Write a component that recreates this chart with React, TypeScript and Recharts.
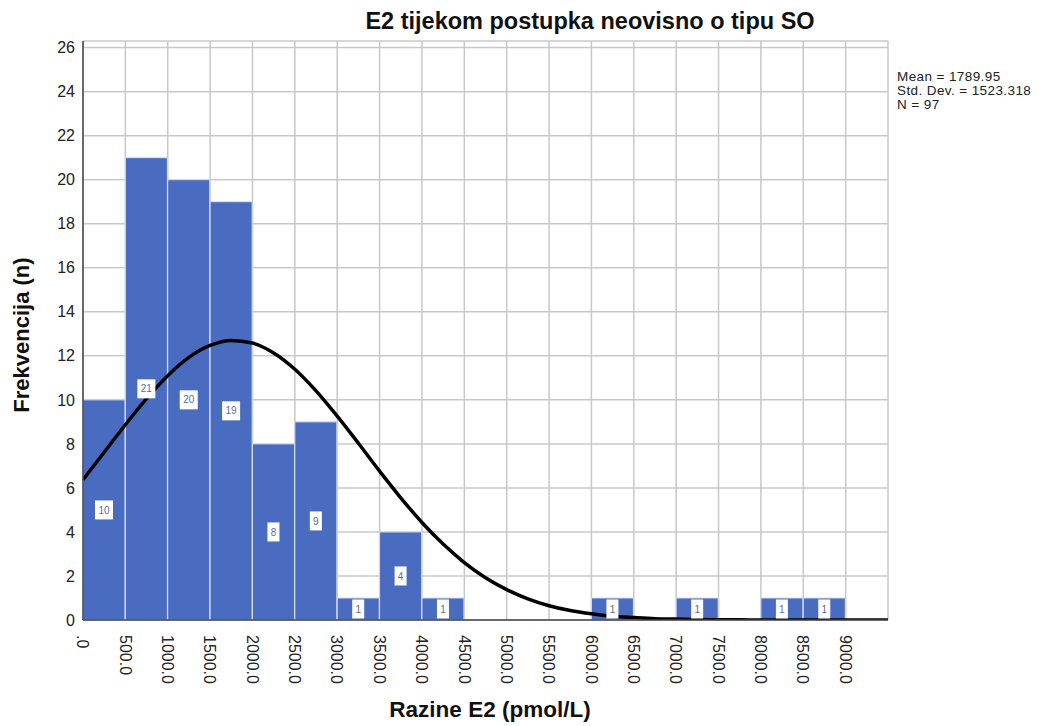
import React from 'react';
import {
  ComposedChart,
  Bar,
  Line,
  XAxis,
  YAxis,
  CartesianGrid,
  LabelList,
} from 'recharts';

// histogram bins (500 pmol/L wide), from 0 to 9500
const binLabels = [
  '0', '500', '1000', '1500', '2000', '2500', '3000', '3500', '4000', '4500',
  '5000', '5500', '6000', '6500', '7000', '7500', '8000', '8500', '9000',
];
const binCounts = [10, 21, 20, 19, 8, 9, 1, 4, 1, 0, 0, 0, 1, 0, 1, 0, 1, 1, 0];

// normal curve
const curveX = [
  0, 250, 500, 750, 1000, 1250, 1500, 1750, 2000, 2250, 2500, 2750, 3000, 3250,
  3500, 3750, 4000, 4250, 4500, 4750, 5000, 5250, 5500, 5750, 6000, 6250, 6500,
  6750, 7000, 7250, 7500, 7750, 8000, 8250, 8500, 8750, 9000, 9250, 9500,
];
const curveY = [
  6.37, 7.62, 8.87, 10.06, 11.1, 11.93, 12.47, 12.7, 12.58, 12.13, 11.39, 10.41,
  9.26, 8.03, 6.76, 5.55, 4.43, 3.45, 2.61, 1.92, 1.38, 0.96, 0.65, 0.43, 0.28,
  0.17, 0.11, 0.06, 0.04, 0.02, 0.01, 0.01, 0, 0, 0, 0, 0, 0, 0,
];

const xTicks = [
  0, 500, 1000, 1500, 2000, 2500, 3000, 3500, 4000, 4500, 5000, 5500, 6000,
  6500, 7000, 7500, 8000, 8500, 9000,
];
const yTicks = [0, 2, 4, 6, 8, 10, 12, 14, 16, 18, 20, 22, 24, 26];

const statLines = ['Mean = 1789.95', 'Std. Dev. = 1523.318', 'N = 97'];

const bins = binLabels.map((b, i) => ({ bin: b, count: binCounts[i] }));
const curve = curveX.map((x, i) => ({ x, y: curveY[i] }));

const FONT = '"Liberation Sans", Arial, sans-serif';
const BAR = '#4a6cc0';

const fmtX = (v: number) => (v === 0 ? '.0' : `${v}.0`);

function XTick(props: any) {
  const { x, y, payload } = props;
  return (
    <g transform={`translate(${x},${y})`}>
      <text
        transform="rotate(90)"
        x={7}
        y={0}
        dy="0.36em"
        textAnchor="start"
        fontSize={16}
        fontFamily={FONT}
        fill="#222"
      >
        {fmtX(payload.value)}
      </text>
    </g>
  );
}

function CountLabel(props: any) {
  const { x, y, width, height, value } = props;
  if (!value) return null;
  const w = String(value).length > 1 ? 18 : 12;
  const h = Math.min(19, height - 2);
  const cx = x + width / 2;
  const cy = y + height / 2;
  return (
    <g>
      <rect x={cx - w / 2} y={cy - h / 2} width={w} height={h} fill="#fff" />
      <text
        x={cx}
        y={cy}
        dy="0.36em"
        textAnchor="middle"
        fontSize={10}
        fontFamily={FONT}
        fill="#5b6d98"
      >
        {value}
      </text>
    </g>
  );
}

export default function App() {
  return (
    <div style={{ position: 'absolute', left: 0, top: 0, width: 1056, height: 726, background: '#fff', fontFamily: FONT }}>
      <ComposedChart
        width={1056}
        height={726}
        data={bins}
        margin={{ top: 41, right: 168, bottom: 0, left: 0 }}
        barCategoryGap={0}
        barGap={0}
      >
        <CartesianGrid xAxisId="num" stroke="#c8c8c8" strokeWidth={1.5} />
        <XAxis xAxisId="cat" dataKey="bin" hide height={0} />
        <XAxis
          xAxisId="num"
          dataKey="x"
          type="number"
          domain={[0, 9500]}
          ticks={xTicks}
          interval={0}
          height={106}
          tick={<XTick />}
          tickLine={false}
          axisLine={{ stroke: '#444', strokeWidth: 1.5 }}
          allowDataOverflow
        />
        <YAxis
          width={83}
          domain={[0, 26.3]}
          ticks={yTicks}
          interval={0}
          allowDataOverflow
          tickLine={false}
          tickSize={4}
          tickMargin={4}
          axisLine={{ stroke: '#444', strokeWidth: 1.5 }}
          tick={{ fontSize: 16, fill: '#222', fontFamily: FONT }}
        />
        <Bar
          xAxisId="cat"
          dataKey="count"
          fill={BAR}
          stroke="#d6ddef"
          strokeWidth={1}
          isAnimationActive={false}
        >
          <LabelList dataKey="count" content={<CountLabel />} />
        </Bar>
        <Line
          xAxisId="num"
          data={curve}
          dataKey="y"
          type="monotone"
          stroke="#000"
          strokeWidth={3.5}
          dot={false}
          activeDot={false}
          isAnimationActive={false}
        />
      </ComposedChart>

      <div
        style={{
          position: 'absolute',
          left: 290,
          width: 600,
          top: 8,
          textAlign: 'center',
          fontSize: 23.5,
          fontWeight: 'bold',
          color: '#111',
          whiteSpace: 'nowrap',
        }}
      >
        E2 tijekom postupka neovisno o tipu SO
      </div>

      <div
        style={{
          position: 'absolute',
          left: 897,
          top: 70,
          fontSize: 13.5,
          lineHeight: '14px',
          letterSpacing: '0.4px',
          color: '#222',
          whiteSpace: 'nowrap',
        }}
      >
        {statLines.map((s) => (
          <div key={s}>{s}</div>
        ))}
      </div>

      <div
        style={{
          position: 'absolute',
          left: 22,
          top: 335,
          transform: 'translate(-50%, -50%) rotate(-90deg)',
          fontSize: 22,
          fontWeight: 'bold',
          color: '#111',
          whiteSpace: 'nowrap',
        }}
      >
        Frekvencija (n)
      </div>

      <div
        style={{
          position: 'absolute',
          left: 290,
          width: 400,
          top: 697,
          textAlign: 'center',
          fontSize: 22.5,
          fontWeight: 'bold',
          color: '#111',
          whiteSpace: 'nowrap',
        }}
      >
        Razine E2 (pmol/L)
      </div>
    </div>
  );
}
